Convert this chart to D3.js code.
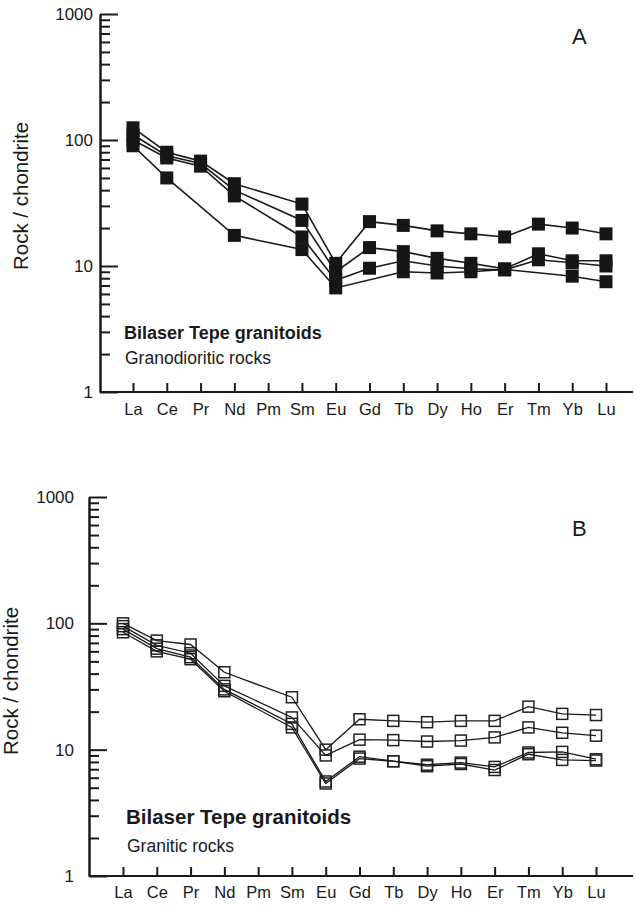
<!DOCTYPE html>
<meta charset="utf-8">
<script src="https://d3js.org/d3.v7.min.js"></script>
<style>
  body { margin: 0; background: #fff; }
  svg text { font-family: "Liberation Sans", Arial, sans-serif; fill: #1a1a1a; }
  .axis path, .axis line { stroke: #1a1a1a; stroke-width: 2px; }
  .axis text { font-size: 17px; }
  .xaxis text { font-size: 16.5px; }
</style>
<body>
<script>

// rare earth elements, chondrite normalised
var elements = ["La","Ce","Pr","Nd","Pm","Sm","Eu","Gd","Tb","Dy","Ho","Er","Tm","Yb","Lu"];
var yTicks = [1, 10, 100, 1000];

// A - granodioritic rocks (null = not analysed)
var granodiorite1 = [125, 80, 68, 45, null, 31, 10.5, 22.5, 21, 19, 18, 17, 21.5, 20, 18];
var granodiorite2 = [110, 75, 65, 40, null, 23, 9, 14, 13, 11.5, 10.5, 9.5, 12.5, 11, 11];
var granodiorite3 = [100, 72, 62, 36, null, 17, 7.7, 9.6, 11, 10, 9.5, 9.3, 11.2, 10.6, 10];
var granodiorite4 = [90, 50, null, 17.5, null, 13.5, 6.7, null, 9, 8.8, 9, 9.4, null, 8.3, 7.5];

// B - granitic rocks
var granite1 = [100, 73, 68, 41, null, 26, 10, 17.4, 16.9, 16.5, 16.9, 16.9, 21.9, 19.2, 18.8];
var granite2 = [95, 67, 58, 32, null, 18, 9, 12, 11.9, 11.6, 11.8, 12.5, 15, 13.6, 12.9];
var granite3 = [90, 63, 54, 30, null, 16, 5.6, 8.8, 8.1, 7.6, 7.9, 7.3, 9.5, 9.6, 8.4];
var granite4 = [85, 60, 52, 29, null, 15, 5.4, 8.5, 8.1, 7.4, 7.7, 6.9, 9.2, 8.3, 8.2];

var svg = d3.select("body").append("svg")
    .attr("width", 635)
    .attr("height", 906);

function minorTicks() {
  var t = [];
  [1, 10, 100].forEach(function(d) {
    for (var i = 2; i <= 9; i++) t.push(d * i);
  });
  return t;
}

function drawPanel(p) {
  var g = svg.append("g");

  var x = d3.scalePoint().domain(elements).range([p.x0, p.x1]);
  var y = d3.scaleLog().domain([1, 1000]).range([p.yBottom, p.yTop]);

  // y axis: minor + major ticks pointing inward
  g.append("g")
      .attr("class", "axis")
      .attr("transform", "translate(" + p.axisX + ",0)")
      .call(d3.axisLeft(y).tickValues(minorTicks()).tickSize(-10).tickSizeOuter(0).tickFormat(""));

  g.append("g")
      .attr("class", "axis")
      .attr("transform", "translate(" + p.axisX + ",0)")
      .call(d3.axisLeft(y).tickValues(yTicks).tickSize(-18).tickSizeOuter(0)
        .tickPadding(p.labelPad).tickFormat(d3.format("d")));

  // x axis
  g.append("line")
      .attr("x1", p.axisX).attr("x2", 633)
      .attr("y1", p.yBottom).attr("y2", p.yBottom)
      .style("stroke", "#1a1a1a").style("stroke-width", 2);

  var xa = g.append("g")
      .attr("class", "axis xaxis")
      .attr("transform", "translate(0," + p.yBottom + ")")
      .call(d3.axisBottom(x).tickSize(-9).tickSizeOuter(0).tickPadding(p.xPad));
  xa.select(".domain").remove();

  g.append("text")
      .attr("transform", "translate(" + p.ylabX + "," + p.ylabY + ") rotate(-90)")
      .attr("text-anchor", "middle")
      .style("font-size", "20.5px")
      .text("Rock / chondrite");

  g.append("text")
      .attr("x", p.letterX).attr("y", p.letterY)
      .style("font-size", "22px")
      .text(p.letter);

  g.append("text")
      .attr("x", p.titleX).attr("y", p.titleY)
      .style("font-size", p.titleSize)
      .style("font-weight", "bold")
      .text("Bilaser Tepe granitoids");

  g.append("text")
      .attr("x", p.titleX + 1).attr("y", p.subY)
      .style("font-size", "17.5px")
      .text(p.subtitle);

  var line = d3.line()
      .x(function(d) { return x(d.el); })
      .y(function(d) { return y(d.v); });

  p.series.forEach(function(s) {
    // missing elements are skipped, line joins the neighbours
    var pts = s.map(function(v, i) { return {el: elements[i], v: v}; })
               .filter(function(d) { return d.v != null; });

    if (p.filled) {
      g.append("path").datum(pts)
          .attr("d", line)
          .style("fill", "none").style("stroke", "#1a1a1a").style("stroke-width", 1.6);
      g.selectAll(null).data(pts).enter().append("rect")
          .attr("x", function(d) { return x(d.el) - 6.5; })
          .attr("y", function(d) { return y(d.v) - 6.5; })
          .attr("width", 13).attr("height", 13)
          .style("fill", "#161616");
    } else {
      g.selectAll(null).data(pts).enter().append("rect")
          .attr("x", function(d) { return x(d.el) - 5.5; })
          .attr("y", function(d) { return y(d.v) - 5.5; })
          .attr("width", 11).attr("height", 11)
          .style("fill", "none").style("stroke", "#222").style("stroke-width", 1.5);
      g.append("path").datum(pts)
          .attr("d", line)
          .style("fill", "none").style("stroke", "#1a1a1a").style("stroke-width", 1.3);
    }
  });
}

drawPanel({
  x0: 133, x1: 606, yTop: 14, yBottom: 392, axisX: 100, labelPad: 7, xPad: 11.5,
  ylabX: 28, ylabY: 196, letter: "A", letterX: 572, letterY: 44,
  titleX: 124, titleY: 339, titleSize: "18px", subY: 364, subtitle: "Granodioritic rocks",
  filled: true,
  series: [granodiorite1, granodiorite2, granodiorite3, granodiorite4]
});

drawPanel({
  x0: 123, x1: 596, yTop: 497, yBottom: 876, axisX: 89, labelPad: 15, xPad: 10.5,
  ylabX: 18, ylabY: 681, letter: "B", letterX: 572, letterY: 536,
  titleX: 126, titleY: 824, titleSize: "20.5px", subY: 852, subtitle: "Granitic rocks",
  filled: false,
  series: [granite1, granite2, granite3, granite4]
});

</script>
</body>
